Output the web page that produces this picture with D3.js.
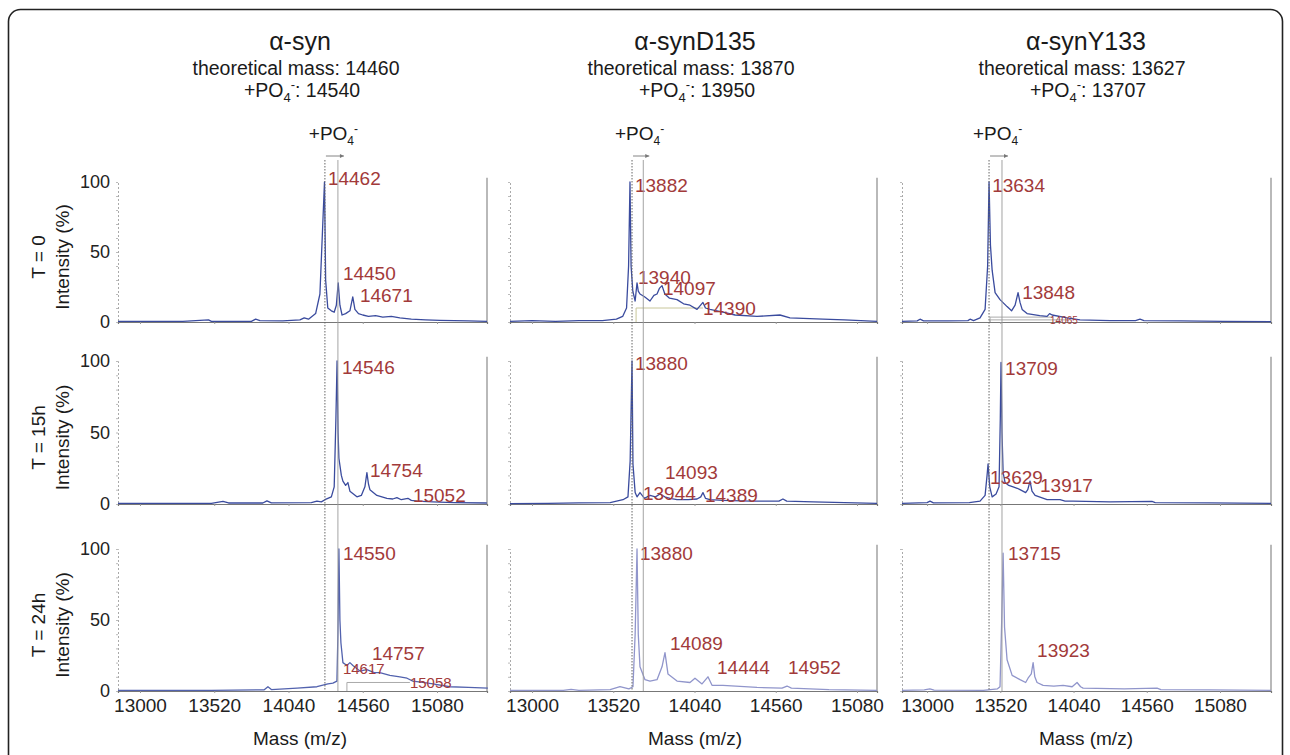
<!DOCTYPE html>
<html>
<head>
<meta charset="utf-8">
<script src="https://cdn.jsdelivr.net/npm/d3@7"></script>
<style>
  body { margin: 0; background: #fff; }
  text { font-family: "Liberation Sans", Arial, Helvetica, sans-serif; }
</style>
</head>
<body>
<div id="fig"></div>
<script>
// ---- data ----
const massTicks = [13000, 13520, 14040, 14560, 15080];
const proteins = ["α-syn", "α-synD135", "α-synY133"];
const theoreticalMass = [14460, 13870, 13627];
const phosphoMass = [14540, 13950, 13707];
const timepoints = ["T = 0", "T = 15h", "T = 24h"];
// where the unmodified / +PO4 guide lines sit on each column's mass axis
const refLines = [[14295, 14386], [13640, 13712], [13440, 13532]];

// spectra, [mass, intensity %]
const synT0 = [[12846,0.5],[13300,0.5],[13480,1.5],[13500,0.5],[13780,0.5],[13810,2],[13840,1],[14000,0.8],[14120,1.5],[14150,3],[14180,2],[14230,6],[14260,20],[14280,70],[14292,100],[14300,30],[14315,10],[14340,8],[14360,7],[14375,12],[14388,28],[14400,12],[14415,5],[14440,6],[14470,8],[14490,18],[14505,9],[14530,6],[14560,5],[14600,4],[14650,4.5],[14700,3.5],[14760,4],[14820,3],[14900,2],[15000,1.5],[15100,1.2],[15200,1],[15300,0.8],[15430,0.5]];
const synT15 = [[12846,0.5],[13500,0.5],[13581,1.8],[13620,0.7],[13860,0.7],[13889,2.2],[13920,0.8],[14200,1],[14239,2],[14270,1.5],[14295,3],[14340,5],[14360,12],[14372,60],[14380,100],[14387,50],[14393,32],[14410,20],[14421,16],[14440,13],[14456,15],[14470,9],[14519,5],[14550,6],[14575,12],[14589,22],[14600,14],[14610,10],[14659,6],[14729,4],[14770,3.5],[14799,4.5],[14830,3],[14876,4],[14900,2.5],[14939,2],[15051,1.5],[15200,1],[15429,0.7]];
const synT24 = [[12846,0.5],[13500,0.5],[13870,0.8],[13896,3],[13920,1],[14100,2],[14239,3],[14316,5],[14351,5.5],[14379,7],[14386,40],[14393,100],[14400,50],[14407,34],[14421,20],[14449,18],[14470,20],[14491,18],[14540,14],[14589,15],[14640,13],[14680,13],[14750,11],[14820,10],[14870,9],[14911,7],[14980,6],[15051,5],[15170,3],[15300,2.5],[15436,2]];

const d135T0 = [[12859,0.5],[13000,1],[13150,0.5],[13300,1],[13450,1],[13540,2],[13580,4],[13605,10],[13618,40],[13627,100],[13634,40],[13645,22],[13660,15],[13672,28],[13680,22],[13691,20],[13720,18],[13755,15],[13780,19],[13800,20],[13815,24],[13832,26],[13850,20],[13880,17],[13928,16],[13970,13],[14011,12],[14056,9],[14094,14],[14110,10],[14139,9],[14222,7],[14300,5],[14440,4],[14587,5],[14651,3],[14862,2],[15000,1.5],[15208,0.5]];
const d135T15 = [[12859,0.3],[13100,0.5],[13300,0.8],[13500,1],[13582,3],[13614,5],[13628,30],[13640,100],[13646,28],[13660,8],[13672,5],[13691,8],[13720,4],[13755,6],[13790,5],[13819,7],[13850,5],[13883,4],[13928,3],[14000,3],[14056,3.5],[14080,5],[14094,8],[14110,4],[14139,3],[14222,2.5],[14400,2],[14580,2],[14606,3.5],[14630,2],[14800,1.5],[15000,1],[15208,0.5]];
const d135T24 = [[12859,0.5],[13200,0.5],[13250,1.2],[13300,0.5],[13500,1],[13563,3],[13620,1.5],[13646,3],[13660,40],[13672,100],[13680,40],[13691,17],[13723,8],[13755,7],[13800,8],[13832,17],[13851,27],[13870,12],[13928,7],[14011,6],[14043,9],[14088,5],[14126,10],[14152,4],[14222,4],[14440,2.5],[14600,2],[14632,3.5],[14660,2],[14900,1],[15208,0.5]];

const y133T0 = [[12822,0.5],[12930,0.8],[12950,2],[12975,0.8],[13150,0.8],[13290,1],[13305,2],[13330,1],[13376,3],[13412,9],[13430,40],[13440,100],[13450,55],[13462,37],[13483,21],[13518,16],[13568,11],[13600,8],[13625,12],[13646,21],[13660,14],[13675,9],[13710,6],[13800,4.5],[13852,4],[13870,6],[13888,5],[13994,3],[14086,1.5],[14300,1],[14480,1],[14512,2],[14540,1],[14800,0.8],[15100,0.5],[15442,0.3]];
const y133T15 = [[12822,0.5],[13000,1],[13021,2],[13045,0.8],[13300,1],[13376,2],[13412,6],[13426,20],[13433,28],[13445,12],[13462,5],[13490,7],[13511,12],[13520,60],[13525,99],[13532,50],[13540,22],[13554,15],[13580,13],[13611,12],[13640,11],[13660,10],[13700,8],[13715,10],[13731,16],[13745,9],[13767,6],[13852,3],[13944,3],[13980,2],[14037,2],[14300,1.5],[14597,1.8],[14620,1],[15000,0.8],[15442,0.5]];
const y133T24 = [[12822,0.5],[12980,0.8],[13020,1.5],[13050,0.6],[13400,0.5],[13500,1.5],[13518,3],[13530,50],[13540,97],[13550,45],[13568,22],[13604,11],[13660,8],[13700,6],[13717,9],[13740,12],[13753,20],[13765,10],[13781,6],[13824,4],[13900,3.5],[13966,4],[14030,3],[14065,6],[14090,3],[14108,2],[14400,1.5],[14633,2],[14660,1],[15000,0.8],[15442,0.5]];

// peak annotations: [label, mass, intensity]
const synT0Peaks = [["14462",14316,103],["14450",14421,35],["14671",14540,19]];
const synT15Peaks = [["14546",14414,96],["14754",14610,24],["15052",14911,6]];
const synT24Peaks = [["14550",14421,97],["14757",14624,27],["14617",14421,16],["15058",14890,6]];
const d135T0Peaks = [["13882",13659,98],["13940",13678,32],["14097",13838,24],["14390",14094,10]];
const d135T15Peaks = [["13880",13659,98.5],["14093",13851,22],["13944",13710,7.7],["14389",14107,6.3]];
const d135T24Peaks = [["13880",13691,97],["14089",13883,34],["14444",14184,17],["14952",14638,17]];
const y133T0Peaks = [["13634",13462,98],["13848",13675,21],["14065",13873,1.4]];
const y133T15Peaks = [["13709",13554,95],["13629",13447,19],["13917",13802,13]];
const y133T24Peaks = [["13715",13575,97],["13923",13781,29]];

// peak-area baselines drawn by the software: [row, col, mass from, mass to, intensity]
const areaBaselines = [[0,1,13666,14094,10],[0,2,13447,13895,3.5],[0,2,13447,14000,1.5],[2,0,14449,14890,6]];

const spectra = [[synT0, d135T0, y133T0], [synT15, d135T15, y133T15], [synT24, d135T24, y133T24]];
const peaks = [[synT0Peaks, d135T0Peaks, y133T0Peaks], [synT15Peaks, d135T15Peaks, y133T15Peaks], [synT24Peaks, d135T24Peaks, y133T24Peaks]];

// ---- layout ----
const W = 1290, H = 755;
const cols = [
  {x0: 118, x1: 487, dom: [12846, 15430], cx: 300},
  {x0: 510, x1: 877, dom: [12859, 15208], cx: 695},
  {x0: 902, x1: 1271, dom: [12822, 15442], cx: 1086}
];
const rows = [
  {y0: 322, y1: 182},
  {y0: 504, y1: 361},
  {y0: 691, y1: 549}
];
const smallLabels = new Set(["14617", "15058"]);
const tinyLabels = new Set(["14065"]);
const labelRed = "#a23a3a";

const svg = d3.select("#fig").append("svg")
  .attr("width", W)
  .attr("height", H);

svg.append("rect")
  .attr("x", 8.5).attr("y", 9.5)
  .attr("width", 1274).attr("height", 780)
  .attr("rx", 12)
  .attr("fill", "none")
  .attr("stroke", "#222")
  .attr("stroke-width", 1.6);

const xScales = cols.map(c => d3.scaleLinear().domain(c.dom).range([c.x0, c.x1]));
const yScales = rows.map(r => d3.scaleLinear().domain([0, 100]).range([r.y0, r.y1]));

// column headers
cols.forEach(function(c, ci) {
  const g = svg.append("g").attr("fill", "#1a1a1a");
  g.append("text").attr("x", c.cx).attr("y", 50)
    .attr("text-anchor", "middle").attr("font-size", 25)
    .text(proteins[ci]);
  g.append("text").attr("x", c.cx - 4).attr("y", 75)
    .attr("text-anchor", "middle").attr("font-size", 19.5)
    .text("theoretical mass: " + theoreticalMass[ci]);
  const t = g.append("text").attr("x", c.cx + 2).attr("y", 97)
    .attr("text-anchor", "middle").attr("font-size", 19.5);
  t.append("tspan").text("+PO");
  t.append("tspan").attr("font-size", 13).attr("dy", 5).text("4");
  t.append("tspan").attr("font-size", 13).attr("dy", -13).text("-");
  t.append("tspan").attr("dy", 8).text(": " + phosphoMass[ci]);

  // +PO4 shift marker
  const xs = xScales[ci];
  const mid = (xs(refLines[ci][0]) + xs(refLines[ci][1])) / 2;
  const p = g.append("text").attr("x", mid + 2).attr("y", 140)
    .attr("text-anchor", "middle").attr("font-size", 19);
  p.append("tspan").text("+PO");
  p.append("tspan").attr("font-size", 12).attr("dy", 5).text("4");
  p.append("tspan").attr("font-size", 12).attr("dy", -12).text("-");

  const ax0 = xs(refLines[ci][0]) + 1, ax1 = xs(refLines[ci][1]) + 6;
  svg.append("line")
    .attr("x1", ax0).attr("x2", ax1).attr("y1", 156).attr("y2", 156)
    .attr("stroke", "#777").attr("stroke-width", 0.9);
  svg.append("path")
    .attr("d", "M" + ax1 + ",156 l-4,-2 v4 z")
    .attr("fill", "#777");

  // mass axis title
  svg.append("text").attr("x", c.cx).attr("y", 745)
    .attr("text-anchor", "middle").attr("font-size", 19).attr("fill", "#1a1a1a")
    .text("Mass (m/z)");
});

// row titles
rows.forEach(function(r, ri) {
  const cy = (r.y0 + r.y1) / 2 + 5;
  svg.append("text")
    .attr("transform", "translate(45," + cy + ") rotate(-90)")
    .attr("text-anchor", "middle").attr("font-size", 19).attr("fill", "#1a1a1a")
    .text(timepoints[ri]);
  svg.append("text")
    .attr("transform", "translate(69," + cy + ") rotate(-90)")
    .attr("text-anchor", "middle").attr("font-size", 19).attr("fill", "#1a1a1a")
    .text("Intensity (%)");
});

// panels
rows.forEach(function(r, ri) {
  cols.forEach(function(c, ci) {
    const x = xScales[ci], y = yScales[ri];
    const g = svg.append("g");

    // left intensity axis (dotted)
    const yAxis = d3.axisLeft(y)
      .tickValues(d3.range(0, 101, 10))
      .tickSize(2)
      .tickPadding(6)
      .tickFormat(d => (ci === 0 && d % 50 === 0) ? d : "");
    const ya = g.append("g").attr("transform", "translate(" + c.x0 + ",0)").call(yAxis);
    ya.select(".domain").attr("stroke", "#aaa").attr("stroke-dasharray", "2,2");
    ya.selectAll(".tick line").attr("stroke", "#bbb");
    ya.selectAll("text").attr("font-size", 18).attr("fill", "#222")
      .attr("font-family", "'Liberation Sans', Arial, sans-serif");

    // right frame
    g.append("line")
      .attr("x1", c.x1).attr("x2", c.x1)
      .attr("y1", y(0)).attr("y2", y(103))
      .attr("stroke", "#8a8a8a").attr("stroke-width", 1.2);

    // mass axis
    const xAxis = d3.axisBottom(x)
      .tickValues(massTicks)
      .tickSize(2)
      .tickPadding(6)
      .tickFormat(d => ri === 2 ? d : "");
    const xa = g.append("g").attr("transform", "translate(0," + y(0) + ")").call(xAxis);
    xa.select(".domain").attr("stroke", "#777").attr("stroke-width", 1.2);
    xa.selectAll(".tick line").attr("stroke", "#999");
    xa.selectAll("text").attr("font-size", 19).attr("fill", "#222")
      .attr("font-family", "'Liberation Sans', Arial, sans-serif");

    // software peak-area baselines
    areaBaselines.filter(b => b[0] === ri && b[1] === ci).forEach(function(b) {
      g.append("path")
        .attr("d", "M" + x(b[2]) + "," + y(0) + "V" + y(b[4]) + "H" + x(b[3]))
        .attr("fill", "none")
        .attr("stroke", ri === 0 && ci === 1 ? "#c8c69a" : "#aaa")
        .attr("stroke-width", 1);
    });

    // spectrum
    const color = ri === 2 ? (ci === 0 ? "#5262ae" : "#9095cb") : "#3a4b9e";
    const line = d3.line().x(d => x(d[0])).y(d => y(d[1]));
    g.append("path")
      .datum(spectra[ri][ci])
      .attr("fill", "none")
      .attr("stroke", color)
      .attr("stroke-width", 1.3)
      .attr("stroke-linejoin", "round")
      .attr("d", line);

    // peak labels
    g.selectAll("text.peak")
      .data(peaks[ri][ci])
      .enter().append("text")
      .attr("class", "peak")
      .attr("x", d => x(d[1]))
      .attr("y", d => y(d[2]))
      .attr("dy", "0.36em")
      .attr("font-size", d => tinyLabels.has(d[0]) ? 10 : (smallLabels.has(d[0]) ? 15 : 19))
      .attr("fill", labelRed)
      .text(d => d[0]);
  });
});

// guide lines through all rows
cols.forEach(function(c, ci) {
  const xs = xScales[ci];
  refLines[ci].forEach(function(m, k) {
    svg.append("line")
      .attr("x1", xs(m)).attr("x2", xs(m))
      .attr("y1", 160).attr("y2", rows[2].y0)
      .attr("stroke", k === 0 ? "#666" : "#999")
      .attr("stroke-width", k === 0 ? 1 : 0.9)
      .attr("stroke-dasharray", k === 0 ? "1.5,1.5" : null);
  });
});
</script>
</body>
</html>
